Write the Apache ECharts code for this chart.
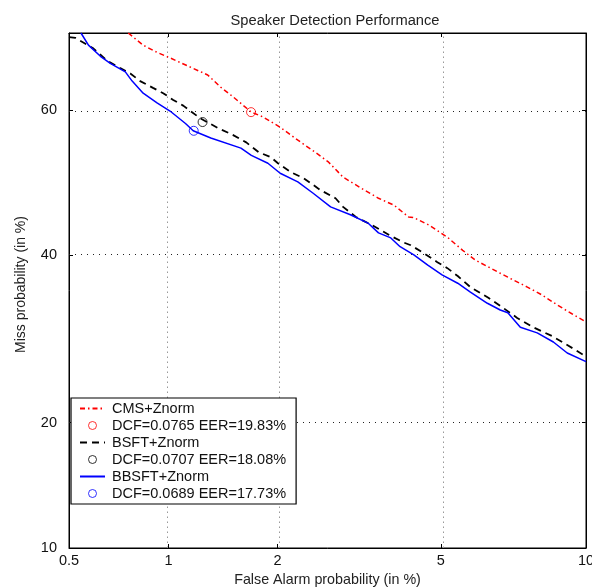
<!DOCTYPE html>
<html><head><meta charset="utf-8">
<script src="https://cdn.jsdelivr.net/npm/echarts@6/dist/echarts.min.js"></script>
<style>html,body{margin:0;padding:0;background:#fff}#c{width:592px;height:588px}</style>
</head><body><div id="c"></div>
<script>
// ---- data (percent) ----
const faTicks = [0.5, 1, 2, 5, 10];
const missTicks = [10, 20, 40, 60];
const faRange = [0.5, 10];
const missRange = [10, 70];

const seriesNames = ['CMS+Znorm', 'BSFT+Znorm', 'BBSFT+Znorm'];
const pointNames = ['DCF=0.0765 EER=19.83%', 'DCF=0.0707 EER=18.08%', 'DCF=0.0689 EER=17.73%'];

const cmsFA = [0.76,0.842,0.925,1.009,1.169,1.292,1.404,1.52,1.703,1.83,2.03,2.26,2.5,2.706,2.94,3.26,3.585,3.9,4.22,4.34,4.69,5.17,5.59,5.95,6.42,6.98,7.66,8.21,8.79,9.32,10];
const cmsMiss = [70,68.5,67.6,66.9,65.6,64.7,63.1,61.8,59.75,59.1,57.7,55.9,54.25,52.85,50.75,49.2,47.8,46.85,45.2,45.1,44.1,42.4,40.6,39.3,38.2,37.0,35.7,34.65,33.4,32.4,31.25];

const bsftFA = [0.5,0.524,0.595,0.658,0.719,0.771,0.825,0.9,0.964,1.031,1.104,1.232,1.378,1.52,1.65,1.78,1.918,2.005,2.166,2.34,2.58,2.816,2.94,3.16,3.45,3.8,4.1,4.27,4.58,4.91,5.17,5.45,5.81,6.35,6.83,7.3,7.87,8.6,9.2,10];
const bsftMiss = [69.5,69.4,68.1,66.5,65.6,64.9,63.9,63.0,62.3,61.4,60.6,58.9,57.6,56.6,55.6,54.25,53.55,52.7,51.45,50.6,48.95,47.8,46.6,45.2,44.1,42.7,41.7,41.3,40.2,39.0,38.2,37.15,35.7,34.3,33.0,31.75,30.6,29.5,28.45,27.1];

const bbsftFA = [0.545,0.575,0.626,0.671,0.745,0.781,0.842,0.925,1.009,1.118,1.176,1.318,1.596,1.703,1.886,2.032,2.259,2.473,2.737,3.065,3.392,3.585,3.835,4.033,4.34,4.671,5.03,5.45,5.81,6.32,6.73,6.98,7.41,8.02,8.64,9.2,10];
const bbsftMiss = [70,68.5,67.1,66.2,65.1,63.9,62.3,61.0,59.9,58.2,57.2,56.2,54.8,53.8,52.7,51.3,50.1,48.5,46.6,45.5,44.3,43.0,42.3,41.1,40.0,38.6,37.3,36.2,35.05,33.6,32.75,32.4,30.6,29.9,28.8,27.5,26.5];

const dcfFA = [1.70, 1.25, 1.18];
const dcfMiss = [59.75, 58.4, 57.2];

const colors = ['#ff0000', '#000000', '#0000ff'];

// ---- normal deviate transform ----
function probit(p) {
  const a=[-3.969683028665376e+01,2.209460984245205e+02,-2.759285104469687e+02,1.383577518672690e+02,-3.066479806614716e+01,2.506628277459239e+00];
  const b=[-5.447609879822406e+01,1.615858368580409e+02,-1.556989798598866e+02,6.680131188771972e+01,-1.328068155288572e+01];
  const c=[-7.784894002430293e-03,-3.223964580411365e-01,-2.400758277161838e+00,-2.549732539343734e+00,4.374664141464968e+00,2.938163982698783e+00];
  const d=[7.784695709041462e-03,3.224671290700398e-01,2.445134137142996e+00,3.754408661907416e+00];
  const pl=0.02425, ph=1-pl; let q,r;
  if (p<pl){q=Math.sqrt(-2*Math.log(p));return (((((c[0]*q+c[1])*q+c[2])*q+c[3])*q+c[4])*q+c[5])/((((d[0]*q+d[1])*q+d[2])*q+d[3])*q+1);}
  if (p<=ph){q=p-0.5;r=q*q;return (((((a[0]*r+a[1])*r+a[2])*r+a[3])*r+a[4])*r+a[5])*q/(((((b[0]*r+b[1])*r+b[2])*r+b[3])*r+b[4])*r+1);}
  q=Math.sqrt(-2*Math.log(1-p));return -(((((c[0]*q+c[1])*q+c[2])*q+c[3])*q+c[4])*q+c[5])/((((d[0]*q+d[1])*q+d[2])*q+d[3])*q+1);
}
const P = v => probit(v / 100);
const pts = (xs, ys) => xs.map((x, i) => [P(x), P(ys[i])]);
const labelFor = ticks => v => { let s=''; ticks.forEach(t => { if (Math.abs(P(t) - v) < 1e-6) s = String(t); }); return s; };

const font = 'Liberation Sans, Arial, Helvetica, sans-serif';
const lineSeries = [
  {data: pts(cmsFA, cmsMiss), type: [5,3,1.5,3], width: 1.5},
  {data: pts(bsftFA, bsftMiss), type: [7,5], width: 1.8},
  {data: pts(bbsftFA, bbsftMiss), type: 'solid', width: 1.5}
];

const series = [];
lineSeries.forEach((s, i) => {
  series.push({
    name: seriesNames[i], type: 'line', data: s.data, showSymbol: false, symbol: 'none',
    lineStyle: {color: colors[i], width: s.width, type: s.type}, itemStyle: {color: colors[i]},
    clip: true, silent: true, z: 3,
    markLine: i === 0 ? {
      silent: true, symbol: 'none', label: {show: false}, animation: false, z: 1,
      data: faTicks.slice(1, -1).map(t => ({xAxis: P(t), lineStyle: {color: '#999', type: [1.5, 3.5], width: 1}}))
        .concat(missTicks.slice(1).map(t => ({yAxis: P(t), lineStyle: {color: '#222', type: [1, 5], width: 1}})))
    } : undefined
  });
  series.push({
    name: pointNames[i], type: 'scatter', data: [[P(dcfFA[i]), P(dcfMiss[i])]],
    symbol: 'circle', symbolSize: 9, z: 4,
    itemStyle: {color: 'rgba(255,255,255,0)', borderColor: colors[i], borderWidth: 1}
  });
});

const legendData = [];
for (let i = 0; i < 3; i++) {
  legendData.push({name: seriesNames[i], itemStyle: {opacity: 0}});
  legendData.push({name: pointNames[i], itemStyle: {borderWidth: 1, color: 'rgba(255,255,255,0)', borderColor: colors[i]}});
}

const tickAxisX = (pos, show) => ({
  type: 'value', min: P(faRange[0]), max: P(faRange[1]), position: pos,
  axisLine: {show: true, onZero: false, lineStyle: {color: '#000', width: 1}},
  axisTick: {show: true, inside: true, length: 4, customValues: faTicks.map(P), lineStyle: {color: '#000'}},
  axisLabel: {show: show, customValues: faTicks.map(P), formatter: labelFor(faTicks), margin: 5,
    fontFamily: font, fontSize: 14.5, color: '#111'},
  splitLine: {show: false}
});
const tickAxisY = (pos, show) => ({
  type: 'value', min: P(missRange[0]), max: P(missRange[1]), position: pos,
  axisLine: {show: true, onZero: false, lineStyle: {color: '#000', width: 1}},
  axisTick: {show: true, inside: true, length: 4, customValues: missTicks.map(P), lineStyle: {color: '#000'}},
  axisLabel: {show: show, customValues: missTicks.map(P), formatter: labelFor(missTicks), margin: 12,
    fontFamily: font, fontSize: 14.5, color: '#111'},
  splitLine: {show: false}
});

const xMain = Object.assign(tickAxisX('bottom', true), {
  name: 'False Alarm probability (in %)', nameLocation: 'middle', nameGap: 25,
  nameTextStyle: {fontFamily: font, fontSize: 14.3, color: '#222'}
});
const yMain = Object.assign(tickAxisY('left', true), {
  name: 'Miss probability (in %)', nameLocation: 'middle', nameGap: 41,
  nameTextStyle: {fontFamily: font, fontSize: 14, color: '#222', padding: [0, 0, 0, 12]}
});

const chart = echarts.init(document.getElementById('c'), null, {renderer: 'canvas'});
chart.setOption({
  animation: false,
  backgroundColor: '#fff',
  textStyle: {fontFamily: font},
  title: {text: 'Speaker Detection Performance', left: 330, top: 8, textAlign: 'center',
    textStyle: {fontFamily: font, fontSize: 14.7, fontWeight: 'normal', color: '#222'}},
  grid: {left: 69, right: 6, top: 33, bottom: 40, show: true, borderColor: '#000', borderWidth: 1,
    containLabel: false, outerBoundsMode: 'none'},
  legend: {
    orient: 'vertical', left: 71, top: 398, width: 225,
    data: legendData,
    itemWidth: 25, itemHeight: 8, itemGap: 2,
    padding: [3, 10, 3, 8],
    backgroundColor: '#fff', borderColor: '#000', borderWidth: 1.2,
    textStyle: {fontFamily: font, fontSize: 14.5, color: '#111', padding: [0, 0, 0, 2], lineHeight: 14},
    selectedMode: false
  },
  xAxis: [xMain, tickAxisX('top', false)],
  yAxis: [yMain, tickAxisY('right', false)],
  series: series
});
</script></body></html>
